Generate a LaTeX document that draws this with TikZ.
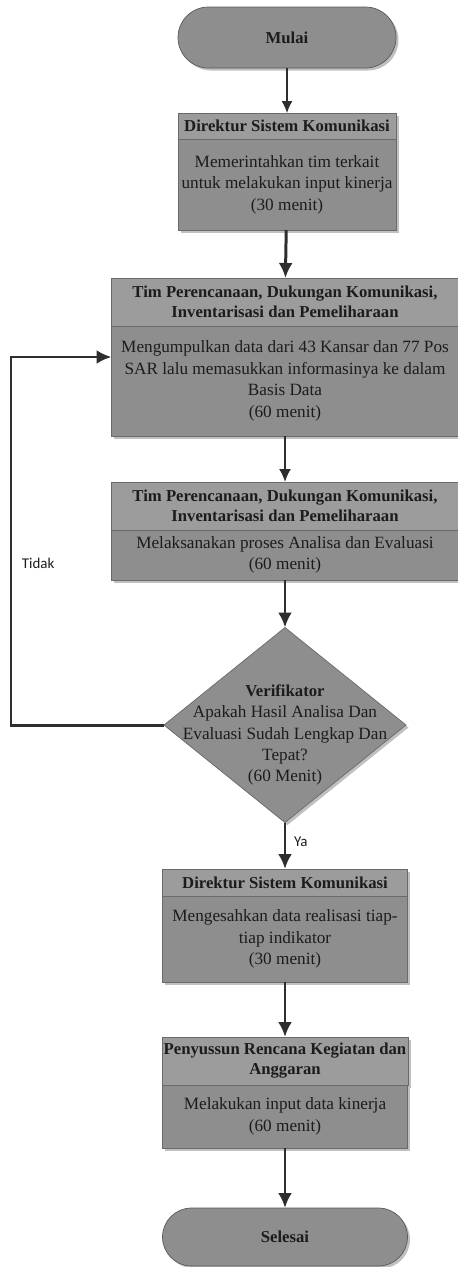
\documentclass[tikz,border=0pt]{standalone}
\usepackage{fontspec}
\setmainfont{Liberation Serif}
\newfontfamily\labelfont{Carlito}
\usepackage{xcolor}
\usetikzlibrary{positioning}
\usetikzlibrary{calc,arrows.meta,shadows}
\usetikzlibrary{shapes.geometric}

\definecolor{boxfill}{HTML}{8E8E8E}
\definecolor{headfill}{HTML}{9C9C9C}
\definecolor{boxline}{HTML}{6A6A6A}
\definecolor{ink}{HTML}{1C1C1C}
\definecolor{wire}{HTML}{2E2E2E}

\newcommand{\headfont}{\fontsize{9.5pt}{11.4pt}\selectfont\bfseries}
\newcommand{\bodyfont}{\fontsize{9.8pt}{12.2pt}\selectfont}

\tikzset{
    shade/.style={drop shadow={shadow xshift=0.05cm,shadow yshift=-0.05cm,fill=black!55,opacity=0.45}},
    headbox/.style={draw=boxline,fill=headfill,text=ink,font=\headfont,align=center,inner sep=1pt,outer sep=0pt,shade},
    bodybox/.style={draw=boxline,fill=boxfill,text=ink,font=\bodyfont,align=center,inner sep=1pt,outer sep=0pt,shade},
    termbox/.style={draw=black!65,fill=boxfill,text=ink,font=\headfont,outer sep=0pt,shade},
    flow/.style={draw=wire,line width=1.7pt,-{Latex[length=3mm,width=2.8mm]}},
    midflow/.style={draw=wire,line width=1.1pt,-{Latex[length=2.6mm,width=2.4mm]}},
    thinflow/.style={draw=wire,line width=0.7pt,-{Latex[length=2.4mm,width=2.2mm]}}
}

\begin{document}
\begin{tikzpicture}
    		\useasboundingbox (0,0) rectangle (9.14,-25.34);
    		\coordinate(P) at (5.74cm,-0.75cm);
    		\coordinate(Q) at (5.70cm,0cm);
    		
    		% Mulai
    		\node[termbox,rounded corners=0.61cm,minimum width=4.36cm,minimum height=1.22cm] (A) at (P) {Mulai};
    		
    		% Direktur Sistem Komunikasi
    		\node[headbox,anchor=north,minimum width=4.36cm,minimum height=0.52cm] (B) at (5.74cm,-2.26cm) {Direktur Sistem Komunikasi};
    		\node[bodybox,below=0pt of B,minimum width=4.36cm,minimum height=1.82cm] (C) {Memerintahkan tim terkait\\untuk melakukan input kinerja\\(30 menit)};
    		
    		% Tim Perencanaan (input)
    		\node[headbox,anchor=north,minimum width=6.94cm,minimum height=0.96cm] (D) at ($(Q)+(0cm,-5.56cm)$) {Tim Perencanaan, Dukungan Komunikasi,\\Inventarisasi dan Pemeliharaan};
    		\node[bodybox,below=0pt of D,minimum width=6.94cm,minimum height=2.2cm] (E) {Mengumpulkan data dari 43 Kansar dan 77 Pos\\SAR lalu memasukkan informasinya ke dalam\\Basis Data\\(60 menit)};
    		
    		% Tim Perencanaan (analisa)
    		\node[headbox,anchor=north,minimum width=6.94cm,minimum height=0.96cm] (F) at ($(Q)+(0cm,-9.64cm)$) {Tim Perencanaan, Dukungan Komunikasi,\\Inventarisasi dan Pemeliharaan};
    		\node[bodybox,below=0pt of F,minimum width=6.94cm,minimum height=1.0cm] (G) {Melaksanakan proses Analisa dan Evaluasi\\(60 menit)};
    		
    		% Verifikator
    		\node[diamond,draw=boxline,fill=boxfill,shade,inner sep=0pt,outer sep=0pt,minimum width=4.84cm,minimum height=3.9cm] (H) at ($(Q)+(0cm,-14.5cm)$) {};
    		\node[text=ink,font=\bodyfont,align=center] (Ht) at ($(H)+(0cm,-0.2cm)$) {{\headfont Verifikator}\\Apakah Hasil Analisa Dan\\Evaluasi Sudah Lengkap Dan\\Tepat?\\(60 Menit)};
    		
    		% Direktur Sistem Komunikasi (pengesahan)
    		\node[headbox,anchor=north,minimum width=4.9cm,minimum height=0.54cm] (I) at ($(Q)+(0cm,-17.38cm)$) {Direktur Sistem Komunikasi};
    		\node[bodybox,below=0pt of I,minimum width=4.9cm,minimum height=1.72cm] (J) {Mengesahkan data realisasi tiap-\\tiap indikator\\(30 menit)};
    		
    		% Penyusun RKA
    		\node[headbox,anchor=north,minimum width=4.9cm,minimum height=0.96cm] (K) at ($(Q)+(0cm,-20.74cm)$) {Penyussun Rencana Kegiatan dan\\Anggaran};
    		\node[bodybox,below=0pt of K,minimum width=4.9cm,minimum height=1.26cm] (L) {Melakukan input data kinerja\\(60 menit)};
    		
    		% Selesai
    		\node[termbox,rounded corners=0.58cm,minimum width=4.9cm,minimum height=1.16cm] (M) at ($(Q)+(0cm,-24.74cm)$) {Selesai};
    		
    		% arrows
    		\draw[thinflow] (A) -- (B);
    		\draw[flow] (C) -- (D);
    		\draw[midflow] (E) -- (F);
    		\draw[flow] (G) -- (H);
    		\draw[flow] (H) -- (I) node[pos=0.42,right=1pt,font=\labelfont\fontsize{8.5pt}{10pt}\selectfont,text=ink] {Ya};
    		\draw[flow] (J) -- (K);
    		\draw[flow] (L) -- (M);
    		
    		% loop back
    		\coordinate(N) at ($(E.west)+(0cm,0.48cm)$);
    		\coordinate(O) at (0.22cm,0cm);
    		\draw[flow] (H.west) -- (O |- H.west) |- (N) node[pos=0.22,right=2pt,font=\labelfont\fontsize{8.5pt}{10pt}\selectfont,text=ink] {Tidak};
\end{tikzpicture}
\end{document}
